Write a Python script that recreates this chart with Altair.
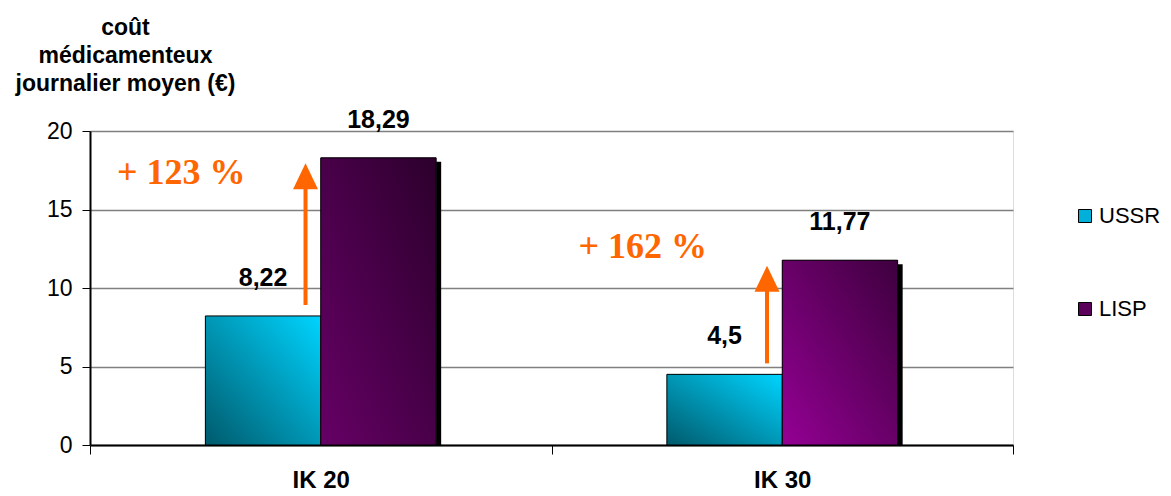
import altair as alt
import pandas as pd

groups = ["IK 20", "IK 30"]
series = ["USSR", "LISP"]
ussr = [8.22, 4.5]
lisp = [18.29, 11.77]
ann_y = [17.3, 12.6]
y_ticks = [0, 5, 10, 15, 20]
legend_colors = ["#00B0D8", "#5A005A"]


def fmt(v):
    return f"{v:g}".replace(".", ",")


rows = []
for g, u, l in zip(groups, ussr, lisp):
    rows.append(dict(group=g, series="USSR", value=u, label=fmt(u)))
    rows.append(dict(group=g, series="LISP", value=l, label=fmt(l)))
bars = pd.DataFrame(rows)

arrows = pd.DataFrame(dict(
    group=groups,
    ussr=ussr,
    lisp=lisp,
    ann=ann_y,
    pct=[f"+ {round((l - u) / u * 100)} %" for u, l in zip(ussr, lisp)],
))

FONT = "Liberation Sans"
ORANGE = "#FF6600"

xscale = alt.Scale(domain=groups, paddingInner=0, paddingOuter=0)
xaxis = alt.Axis(title=None, labelFont=FONT, labelFontSize=24, labelFontWeight="bold",
                 labelColor="black", labelAngle=0, tickBand="extent", tickSize=9,
                 tickColor="black", domainColor="black", domainWidth=2,
                 labelPadding=14, grid=False)
yscale = alt.Scale(domain=[0, 20], nice=False)
yaxis = alt.Axis(values=y_ticks, title=["coût", "médicamenteux", "journalier moyen (€)"],
                 titleAngle=0, titleAlign="center", titleBaseline="top",
                 titleX=35, titleY=-115, titleFont=FONT, titleFontSize=23,
                 titleFontWeight="bold", titleLineHeight=28, titleColor="black",
                 labelFont=FONT, labelFontSize=23, labelColor="black", labelPadding=10,
                 tickSize=8, tickColor="black", domainColor="black", domainWidth=2,
                 grid=True, gridColor="#808080", gridWidth=1.5)
offscale = alt.Scale(domain=series, paddingInner=0, paddingOuter=1)


def X(band=None):
    if band is None:
        return alt.X("group:N", scale=xscale, axis=xaxis)
    return alt.X("group:N", scale=xscale, axis=xaxis, bandPosition=band)


def XO():
    return alt.XOffset("series:N", scale=offscale)


def Y(field):
    return alt.Y(field, scale=yscale, axis=yaxis)


def grad(c0, c1):
    return alt.Gradient(gradient="linear", x1=0, y1=1, x2=1, y2=0,
                        stops=[alt.GradientStop(color=c0, offset=0),
                               alt.GradientStop(color=c1, offset=1)])


base = alt.Chart(bars)

color_bars = base.mark_bar().encode(
    x=X(), xOffset=XO(), y=Y("value:Q"),
    color=alt.Color("series:N", scale=alt.Scale(domain=series, range=legend_colors),
                    legend=alt.Legend(title=None, orient="none", legendX=984, legendY=74,
                                      symbolType="square", symbolSize=169,
                                      symbolStrokeColor="black", symbolStrokeWidth=1,
                                      labelFont=FONT, labelFontSize=22, labelColor="black",
                                      labelOffset=3, rowPadding=71, padding=0)),
)

# drop shadow on the right side of the LISP bars
shadow = base.transform_filter(alt.datum.series == "LISP").transform_calculate(
    shadow_top="datum.value - 0.25", zero="0"
).mark_rule(color="black", strokeWidth=5, strokeCap="butt").encode(
    x=X(0.7555), y=Y("shadow_top:Q"), y2="zero:Q")

ussr_bars = base.transform_filter(alt.datum.series == "USSR").mark_bar(
    fill=grad("#005A6C", "#00D4FF"), stroke="black", strokeWidth=1
).encode(x=X(), xOffset=XO(), y=Y("value:Q"))

lisp1 = base.transform_filter((alt.datum.series == "LISP") & (alt.datum.group == groups[0])).mark_bar(
    fill=grad("#660066", "#2C002C"), stroke="black", strokeWidth=1
).encode(x=X(), xOffset=XO(), y=Y("value:Q"))

lisp2 = base.transform_filter((alt.datum.series == "LISP") & (alt.datum.group == groups[1])).mark_bar(
    fill=grad("#940094", "#3E003E"), stroke="black", strokeWidth=1
).encode(x=X(), xOffset=XO(), y=Y("value:Q"))

value_labels = base.mark_text(baseline="middle", dy=-38, font=FONT, fontSize=25,
                              fontWeight="bold", color="black").encode(
    x=X(), xOffset=XO(), y=Y("value:Q"), text="label:N")

arr = alt.Chart(arrows).transform_calculate(
    start="datum.ussr + 0.7", tip="datum.lisp - 0.35", stem_end="datum.lisp - 1.1"
)

stem = arr.mark_rule(color=ORANGE, strokeWidth=4).encode(
    x=X(0.467), y=Y("start:Q"), y2="stem_end:Q")

head = arr.mark_point(shape="M0,-1L0.96,1L-0.96,1Z", size=676, filled=True,
                      color=ORANGE, opacity=1, strokeWidth=0, yOffset=13).encode(
    x=X(0.467), y=Y("tip:Q"))

pct_text = arr.mark_text(align="right", baseline="middle", font="Liberation Serif",
                         fontSize=36, fontWeight="bold", color=ORANGE).encode(
    x=X(0.337), y=Y("ann:Q"), text="pct:N")

chart = alt.layer(color_bars, shadow, ussr_bars, lisp1, lisp2, value_labels,
                  stem, head, pct_text).properties(
    width=923, height=314, autosize="none",
    padding={"left": 82, "top": 123, "right": 150, "bottom": 48},
).configure_view(stroke="black", strokeWidth=2).configure(background="white")

chart.save("out.html", embed_options={"renderer": "svg", "actions": False})
